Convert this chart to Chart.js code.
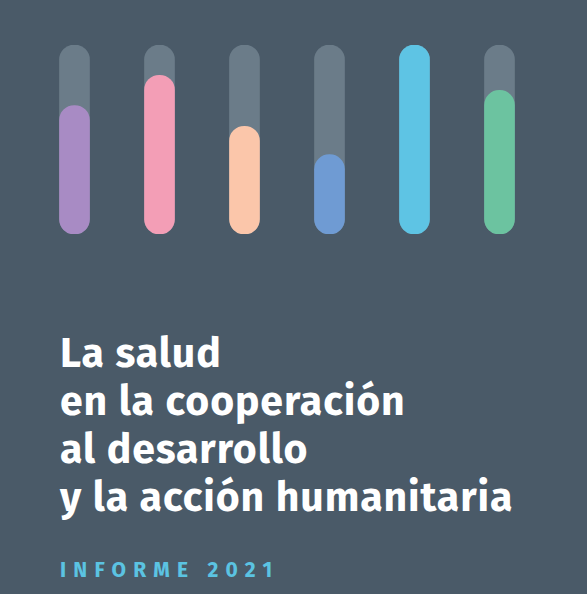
<!DOCTYPE html>
<html><head><meta charset="utf-8">
<script src="https://cdn.jsdelivr.net/npm/chart.js@4"></script>
<style>
html,body{margin:0;padding:0;background:#4a5a68;width:587px;height:594px;overflow:hidden;font-family:"Fira Sans","Open Sans",Lato,sans-serif}
#wrap{position:absolute;left:0;top:0;width:587px;height:280px}
#title{position:absolute;left:60px;top:330px;color:#fff;font-weight:700;font-size:41px;line-height:48px;letter-spacing:0.9px}
#sub{position:absolute;left:60px;top:557px;color:#5bc3e2;font-weight:700;font-size:21px;letter-spacing:7.2px}
</style></head><body>
<div id="wrap"><canvas id="c"></canvas></div>
<div id="title">La salud<br>en la cooperación<br>al desarrollo<br>y la acción humanitaria</div>
<div id="sub">INFORME 2021</div>
<script>
const categories=["A","B","C","D","E","F"];
const values=[0.68,0.84,0.57,0.42,1.0,0.76];
const track=[1,1,1,1,1,1];
const colors=["#a88bc4","#f39eb6","#fbc6aa","#6f9bd3","#5ec4e4","#6cc3a0"];
new Chart(document.getElementById('c'),{
type:'bar',
data:{labels:categories,datasets:[
{data:values,backgroundColor:colors,borderRadius:15,borderSkipped:false,barThickness:30,grouped:false,order:0},
{data:track,backgroundColor:"#6b7c89",borderRadius:15,borderSkipped:false,barThickness:30,grouped:false,order:1}
]},
options:{responsive:true,maintainAspectRatio:false,animation:false,
layout:{padding:{left:32,right:45,top:45,bottom:46}},
plugins:{legend:{display:false},tooltip:{enabled:false}},
scales:{x:{display:false},y:{display:false,min:0,max:1}}}
});
</script></body></html>
